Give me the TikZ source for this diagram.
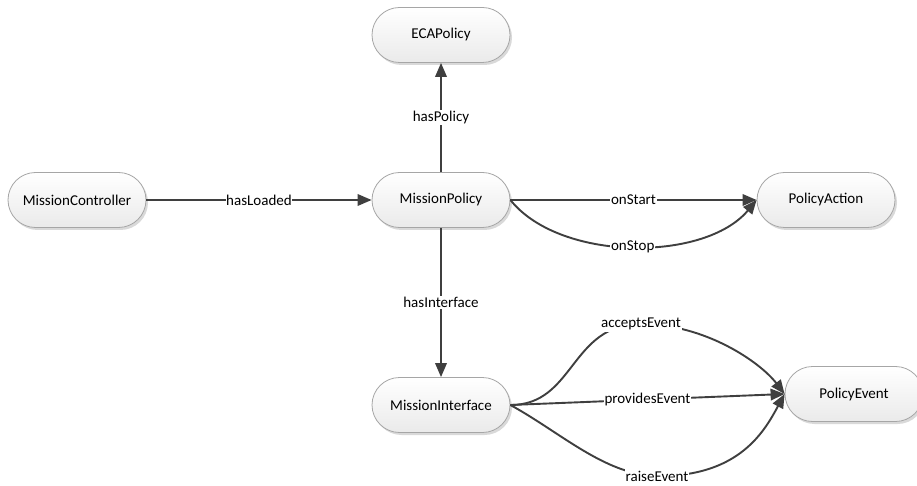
\documentclass[tikz,border=0pt]{standalone}
\usepackage{fontspec}
\setmainfont{Carlito}
\usetikzlibrary{arrows.meta,shadows}
\definecolor{edgecol}{HTML}{3F3F3F}
\definecolor{boxline}{HTML}{A6A6A6}
\definecolor{boxbottom}{HTML}{EAEAEA}
\tikzset{
  concept/.style={rectangle, rounded corners=27.5pt, draw=boxline, line width=0.8pt,
    top color=white, bottom color=boxbottom, minimum width=138pt, minimum height=55pt,
    inner sep=0pt, font=\fontsize{15}{18}\selectfont,
    drop shadow={shadow xshift=2pt, shadow yshift=-2.5pt, fill=black, opacity=0.15}},
  rel/.style={draw=edgecol, line width=1.9pt, -{Triangle[length=14pt,width=11.5pt]}},
  lbl/.style={fill=white, inner xsep=0.6pt, inner ysep=1.5pt, font=\fontsize{15}{18}\selectfont, text=black}
}
\begin{document}
\begin{tikzpicture}[x=1pt, y=-1pt]
  \useasboundingbox[fill=white] (0,0) rectangle (917,486);

  % concepts
  \node[concept] (mc)  at (77,200)  {MissionController};
  \node[concept] (mp)  at (441,200) {MissionPolicy};
  \node[concept] (eca) at (441,35)  {ECAPolicy};
  \node[concept] (pa)  at (826,200) {PolicyAction};
  \node[concept] (mi)  at (441,405) {MissionInterface};
  \node[concept] (pe)  at (854,394) {PolicyEvent};

  % relations
  \draw[rel] (mc) -- node[lbl] {hasLoaded} (mp);
  \draw[rel] (mp) -- node[lbl] {hasPolicy} (eca);
  \draw[rel] (mp) -- node[lbl] {hasInterface} (mi);
  \draw[rel] (mp.east) -- node[lbl] {onStart} (pa.west);
  \draw[rel] (mp.east) .. controls (560,262) and (705,262) .. node[lbl, pos=0.5] {onStop} (pa.west);
  \draw[rel] (mi.east) -- node[lbl] {providesEvent} (pe.west);
  \draw[rel] (mi.east) .. controls (575,405) and (570,324) .. (641,324)
    node[lbl] {acceptsEvent}
    .. controls (705,324) and (760,362) .. (pe.west);
  \draw[rel] (mi.east) .. controls (560,432) and (605,475) .. (657,476)
    node[lbl] {raiseEvent}
    .. controls (740,477) and (765,430) .. (pe.west);
\end{tikzpicture}
\end{document}
